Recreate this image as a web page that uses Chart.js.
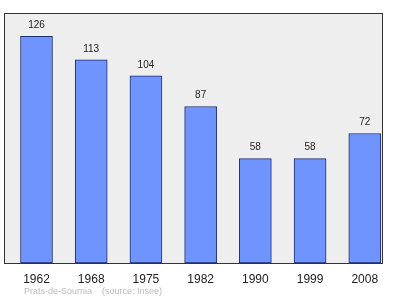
<!DOCTYPE html>
<html>
<head>
<meta charset="utf-8">
<script src="https://cdn.jsdelivr.net/npm/chart.js@4"></script>
<style>
  html, body { margin: 0; padding: 0; background: #ffffff; }
  #wrap { width: 400px; height: 299px; }
</style>
</head>
<body>
<div id="wrap"><canvas id="chart" width="400" height="299"></canvas></div>
<script>
const years = ["1962", "1968", "1975", "1982", "1990", "1999", "2008"]
const population = [126, 113, 104, 87, 58, 58, 72]
const footerText = "Prats-de-Sournia    (source: Insee)"

// fond gris + cadre de la zone du graphique
const fondZone = {
    id: "fondZone",
    beforeDraw: (chart) => {
        const { ctx, chartArea: a } = chart
        ctx.save()
        ctx.fillStyle = "#eeeeee"
        ctx.fillRect(a.left, a.top, a.right - a.left, a.bottom - a.top)
        ctx.restore()
    },
    afterDatasetsDraw: (chart) => {
        const { ctx, chartArea: a } = chart
        ctx.save()
        ctx.strokeStyle = "#333333"
        ctx.lineWidth = 1
        ctx.strokeRect(a.left + 0.5, a.top + 0.5, a.right - a.left - 1, a.bottom - a.top)

        // valeurs au-dessus des barres
        ctx.fillStyle = "#222222"
        ctx.font = "10px 'Liberation Sans', Arial, sans-serif"
        ctx.textAlign = "center"
        ctx.textBaseline = "middle"
        chart.getDatasetMeta(0).data.forEach((bar, i) => {
            ctx.fillText(population[i], bar.x, bar.y - 11)
        })

        // source
        ctx.fillStyle = "#bbbbbb"
        ctx.font = "9px 'Liberation Sans', Arial, sans-serif"
        ctx.textAlign = "left"
        ctx.fillText(footerText, 24, 292)
        ctx.restore()
    }
}

new Chart(document.getElementById("chart"), {
    type: "bar",
    data: {
        datasets: [{
            data: population.map((v, i) => ({ x: i, y: v })),
            backgroundColor: "#7094fd",
            borderColor: "#1f2f6f",
            borderWidth: 1,
            barThickness: 32,
            borderSkipped: false
        }]
    },
    options: {
        responsive: false,
        animation: false,
        layout: { padding: { left: 4, right: 17, top: 13, bottom: 0 } },
        plugins: { legend: { display: false }, tooltip: { enabled: false } },
        scales: {
            x: {
                type: "linear",
                offset: false,
                min: -0.594,
                max: 6.333,
                grid: { display: false, drawTicks: false, offset: false },
                border: { display: false },
                afterBuildTicks: (scale) => {
                    scale.ticks = years.map((y, i) => ({ value: i }))
                },
                afterFit: (scale) => { scale.height = 36 },
                ticks: {
                    padding: 9,
                    color: "#222222",
                    font: { family: "'Liberation Sans', Arial, sans-serif", size: 12 },
                    maxRotation: 0,
                    callback: (v) => years[v]
                }
            },
            y: {
                display: false,
                min: 0,
                max: 139
            }
        }
    },
    plugins: [fondZone]
})
</script>
</body>
</html>
